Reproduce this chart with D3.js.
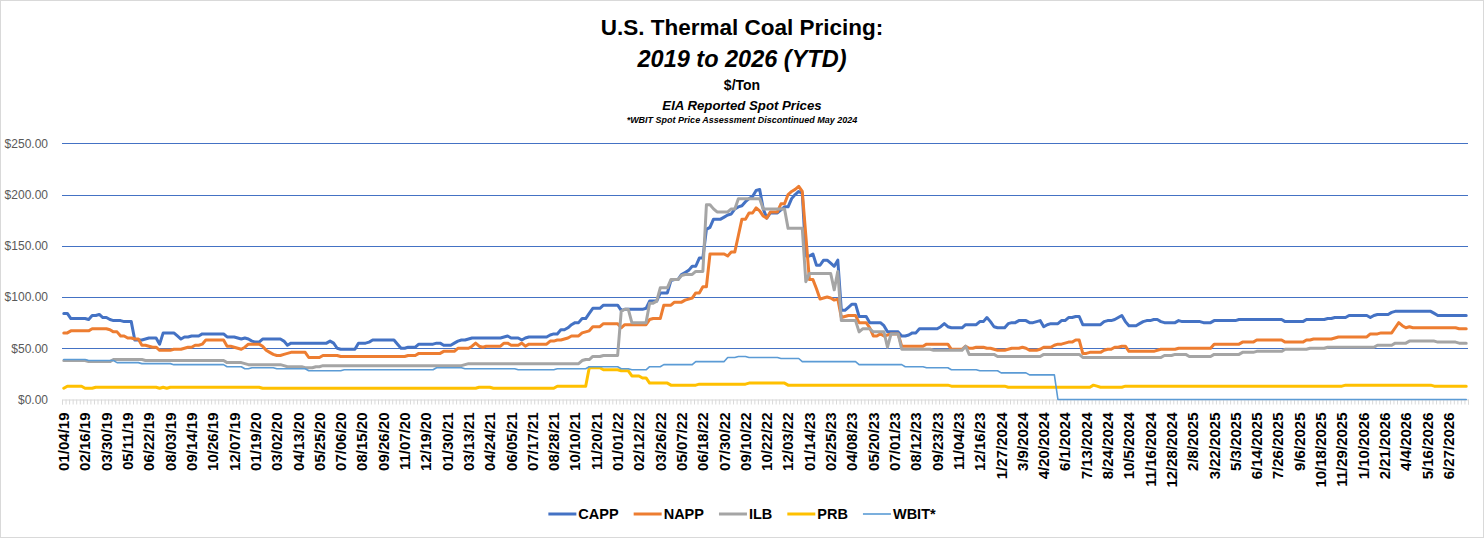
<!DOCTYPE html>
<html>
<head>
<meta charset="UTF-8">
<title>U.S. Thermal Coal Pricing</title>
<script src="https://cdn.jsdelivr.net/npm/d3@7"></script>
<style>
  body { margin: 0; background: #fff; }
  svg { display: block; font-family: "Liberation Sans", Arial, sans-serif; }
</style>
</head>
<body>
<svg id="chart" width="1484" height="538"></svg>
<script>
// weekly spot prices, $/ton
var capp = [
  84,84,79,79,79,79,79,78,82,82,83,80,
  80,78,77,77,77,76,76,76,58,58,58,59,
  60,60,60,54,65,65,65,65,62,59,61,61,
  62,62,62,64,64,64,64,64,64,64,61,61,
  61,60,59,60,59,57,56,56,59,59,59,59,
  59,59,57,53,55,55,55,55,55,55,55,55,
  55,55,55,57,55,50,49,49,49,49,49,55,
  55,55,56,58,58,58,58,58,58,58,54,50,
  50,51,51,51,54,54,54,54,54,55,55,53,
  53,53,55,57,58,58,59,60,60,60,60,60,
  60,60,60,60,61,62,60,60,60,58,60,61,
  61,61,61,61,61,63,64,64,68,68,70,73,
  75,75,79,79,84,89,89,89,92,92,92,92,
  92,87,88,88,88,88,88,88,89,96,96,96,
  104,104,104,116,117,117,122,124,126,130,130,138,
  138,166,168,176,176,176,178,180,181,186,188,189,
  193,196,198,204,205,186,177,182,182,182,185,188,
  188,196,200,203,201,140,140,142,131,131,136,136,
  133,130,136,87,87,90,93,93,81,81,81,75,
  75,75,75,72,66,66,66,66,62,62,63,65,
  65,69,69,69,69,69,69,71,74,71,70,70,
  70,70,73,73,73,73,76,76,80,76,71,70,
  70,70,74,75,75,77,77,77,75,75,76,77,
  71,73,74,74,74,77,77,80,80,81,81,73,
  73,73,73,73,73,76,77,77,78,80,82,76,
  72,72,72,74,76,77,77,78,78,76,75,75,
  75,75,77,76,76,76,76,76,76,75,75,75,
  77,77,77,77,77,77,77,78,78,78,78,78,
  78,78,78,78,78,78,78,78,76,76,76,76,
  76,76,78,78,78,78,78,78,79,79,80,80,
  80,80,82,82,82,82,82,82,80,82,83,83,
  83,83,85,86,86,86,86,86,86,86,86,86,
  86,86,84,82,82,82,82,82,82,82,82,82
];

var napp = [
  65,65,67,67,67,67,67,67,69,69,69,69,
  69,68,66,66,62,62,60,60,59,59,53,53,
  52,51,51,48,48,48,48,49,49,49,50,51,
  51,53,53,54,58,58,58,58,58,58,52,52,
  51,50,49,51,54,54,54,54,52,48,46,44,
  43,43,44,45,46,46,46,46,46,41,41,41,
  41,43,43,43,43,43,42,42,42,42,42,42,
  42,42,42,42,42,42,42,42,42,42,42,42,
  42,43,43,43,45,45,45,45,45,45,45,47,
  47,47,47,50,50,50,50,52,55,52,51,52,
  52,52,52,52,55,55,53,53,53,55,52,54,
  54,54,54,54,54,57,57,58,58,59,60,62,
  62,62,65,66,67,71,71,71,74,74,74,74,
  74,70,73,73,73,73,73,73,73,78,79,79,
  79,92,92,92,95,95,95,97,98,99,104,104,
  110,110,142,142,142,142,142,140,144,144,160,176,
  176,182,182,187,184,179,177,183,183,183,191,191,
  200,203,205,208,203,160,117,117,108,98,99,100,
  99,97,98,80,81,82,82,82,75,75,75,70,
  62,62,64,62,63,64,64,64,52,52,52,52,
  52,52,52,54,54,54,54,54,54,54,49,49,
  49,49,52,50,50,51,51,51,50,50,49,48,
  48,48,49,50,50,50,51,50,48,48,48,49,
  51,51,51,53,54,54,55,56,56,58,58,45,
  45,46,46,46,46,48,49,49,51,51,52,52,
  47,47,47,47,47,47,47,47,48,49,49,49,
  49,49,50,50,50,50,50,50,50,50,50,50,
  54,54,54,54,54,54,54,54,56,56,56,56,
  58,58,58,58,58,58,58,58,56,56,56,56,
  56,56,58,58,59,59,59,59,59,59,60,61,
  61,61,61,61,61,61,61,61,64,64,64,65,
  65,65,65,70,75,72,70,71,70,70,70,70,
  70,70,70,70,70,70,70,70,70,69,69,69
];

var ilb = [
  38,38,38,38,38,38,38,37,37,37,37,37,
  37,37,39,39,39,39,39,39,39,39,39,38,
  38,38,38,38,38,38,38,38,38,38,38,38,
  38,38,38,38,38,38,38,38,38,38,36,36,
  36,36,36,35,34,34,34,34,34,34,34,34,
  34,34,33,32,32,32,32,32,31,31,31,32,
  32,33,33,33,33,33,33,33,33,33,33,33,
  33,33,33,33,33,33,33,33,33,33,33,33,
  33,33,33,33,33,33,33,33,33,33,33,33,
  33,33,33,33,33,34,35,35,35,35,35,35,
  35,35,35,35,35,35,35,35,35,35,35,35,
  35,35,35,35,35,35,35,35,35,35,35,35,
  35,35,38,39,39,42,42,42,43,43,43,43,
  43,86,88,88,75,75,75,75,75,94,94,96,
  109,109,109,117,117,117,121,122,122,122,125,125,
  125,190,190,186,183,183,183,183,186,186,196,196,
  196,196,196,196,196,186,186,186,186,186,186,186,
  167,167,167,167,167,115,123,123,123,123,123,123,
  123,107,125,77,77,77,77,77,66,69,69,69,
  66,66,66,66,51,64,64,64,49,49,49,49,
  49,49,49,49,49,48,48,48,48,48,48,48,
  48,48,52,44,44,44,44,44,44,44,44,42,
  42,42,42,42,42,42,42,42,42,42,42,42,
  44,44,44,44,44,44,44,44,44,44,44,41,
  41,41,41,41,41,41,41,41,41,41,41,41,
  41,41,41,41,41,41,41,41,41,41,43,43,
  43,44,44,44,44,42,42,42,42,42,42,42,
  44,44,44,44,44,44,44,44,46,46,46,46,
  47,47,47,47,47,47,47,47,49,49,49,49,
  49,49,49,50,50,50,50,50,51,51,51,51,
  51,51,51,51,51,51,51,51,51,51,53,53,
  53,53,53,55,55,55,55,57,57,57,57,57,
  57,57,57,56,56,56,56,56,56,55,55,55
];

var prb = [
  11,13,13,13,13,13,11,11,11,12,12,12,
  12,12,12,12,12,12,12,12,12,12,12,12,
  12,12,12,11,12,11,12,12,12,12,12,12,
  12,12,12,12,12,12,12,12,12,12,12,12,
  12,12,12,12,12,12,12,12,11,11,11,11,
  11,11,11,11,11,11,11,11,11,11,11,11,
  11,11,11,11,11,11,11,11,11,11,11,11,
  11,11,11,11,11,11,11,11,11,11,11,11,
  11,11,11,11,11,11,11,11,11,11,11,11,
  11,11,11,11,11,11,11,11,11,12,12,12,
  12,11,11,11,11,11,11,11,11,11,11,11,
  11,11,11,11,11,11,11,13,13,13,13,13,
  13,13,13,13,31,31,31,31,29,29,29,29,
  29,28,28,28,23,23,23,21,21,16,16,16,
  16,16,16,14,14,14,14,14,14,14,14,15,
  15,15,15,15,15,15,15,15,15,15,15,15,
  15,16,16,16,16,16,16,16,16,16,16,16,
  14,14,14,14,14,14,14,14,14,14,14,14,
  14,14,14,14,14,14,14,14,14,14,14,14,
  14,14,14,14,14,14,14,14,14,14,14,14,
  14,14,14,14,14,14,14,14,14,14,13,13,
  13,13,13,13,13,13,13,13,13,13,13,13,
  13,13,12,12,12,12,12,12,12,12,12,12,
  12,12,12,12,12,12,12,12,12,12,12,12,
  12,12,14,13,12,12,12,12,12,12,12,13,
  13,13,13,13,13,13,13,13,13,13,13,13,
  13,13,13,13,13,13,13,13,13,13,13,13,
  13,13,13,13,13,13,13,13,13,13,13,13,
  13,13,13,13,13,13,13,13,13,13,13,13,
  13,13,13,13,13,13,13,13,13,13,13,13,
  13,14,14,14,14,14,14,14,14,14,14,14,
  14,14,14,14,14,14,14,14,14,14,14,14,
  14,14,13,13,13,13,13,13,13,13,13,13
];

// WBIT assessment discontinued May 2024, plotted at zero afterwards
var wbit = [
  39,39,39,39,39,39,39,38,38,38,38,38,
  38,38,38,36,36,36,36,36,36,36,35,35,
  35,35,35,35,35,35,35,34,34,34,34,34,
  34,34,34,34,34,34,34,34,34,34,32,32,
  32,32,32,30,30,31,31,31,31,31,31,31,
  30,30,30,30,30,30,30,30,30,28,28,28,
  28,28,28,28,28,28,28,29,29,29,29,29,
  29,29,29,29,29,29,29,29,29,29,29,29,
  29,29,29,29,29,29,29,29,29,31,31,31,
  31,31,31,31,31,30,30,30,30,30,30,30,
  30,30,30,30,30,30,30,30,29,29,29,29,
  29,29,29,29,29,29,29,30,30,30,30,30,
  30,30,30,30,32,32,32,32,32,32,32,32,
  32,30,30,30,29,29,29,29,29,32,32,32,
  32,34,34,34,34,34,34,34,34,34,37,37,
  37,37,37,37,37,37,37,41,41,41,42,42,
  42,41,41,41,41,41,41,41,41,41,40,40,
  40,40,40,40,37,37,37,37,37,37,37,37,
  37,37,37,37,37,37,37,37,34,34,34,34,
  34,34,34,34,34,34,34,34,34,32,32,32,
  32,32,32,31,31,31,31,31,31,31,29,29,
  29,29,29,29,29,29,28,28,28,28,28,28,
  26,26,26,26,26,26,26,26,24,24,24,24,
  24,24,24,24,0,0,0,0,0,0,0,0,
  0,0,0,0,0,0,0,0,0,0,0,0,
  0,0,0,0,0,0,0,0,0,0,0,0,
  0,0,0,0,0,0,0,0,0,0,0,0,
  0,0,0,0,0,0,0,0,0,0,0,0,
  0,0,0,0,0,0,0,0,0,0,0,0,
  0,0,0,0,0,0,0,0,0,0,0,0,
  0,0,0,0,0,0,0,0,0,0,0,0,
  0,0,0,0,0,0,0,0,0,0,0,0,
  0,0,0,0,0,0,0,0,0,0,0,0
];

// every 6th week is labelled on the axis
var tickLabels = ["01/04/19","02/16/19","03/30/19","05/11/19","06/22/19","08/03/19","09/14/19","10/26/19","12/07/19",
  "01/19/20","03/02/20","04/13/20","05/25/20","07/06/20","08/15/20","09/26/20","11/07/20","12/19/20",
  "01/30/21","03/13/21","04/24/21","06/05/21","07/17/21","08/28/21","10/10/21","11/20/21",
  "01/01/22","02/12/22","03/26/22","05/07/22","06/18/22","07/30/22","09/10/22","10/22/22","12/03/22",
  "01/14/23","02/25/23","04/08/23","05/20/23","07/01/23","08/12/23","09/23/23","11/04/23","12/16/23",
  "1/27/2024","3/9/2024","4/20/2024","6/1/2024","7/13/2024","8/24/2024","10/5/2024","11/16/2024","12/28/2024",
  "2/8/2025","3/22/2025","5/3/2025","6/14/2025","7/26/2025","9/6/2025","10/18/2025","11/29/2025",
  "1/10/2026","2/21/2026","4/4/2026","5/16/2026","6/27/2026"];

var yTicks = [0, 50, 100, 150, 200, 250];

var series = [
  {name: "CAPP",  values: capp, color: "#4472c4", width: 3},
  {name: "NAPP",  values: napp, color: "#ed7d31", width: 3},
  {name: "ILB",   values: ilb,  color: "#a5a5a5", width: 3},
  {name: "PRB",   values: prb,  color: "#ffc000", width: 3},
  {name: "WBIT*", values: wbit, color: "#5b9bd5", width: 1.6}
];

var W = 1484, H = 538;
var plotLeft = 62, plotRight = 1468, plotTop = 143.3, plotBottom = 399.5;
var n = capp.length;

var svg = d3.select("#chart");

svg.append("rect")
    .attr("x", 0.5).attr("y", 0.5)
    .attr("width", W - 1).attr("height", H - 1)
    .attr("fill", "#fff").attr("stroke", "#d9d9d9");

var x = d3.scaleBand().domain(d3.range(n)).range([plotLeft, plotRight]).padding(0);
var xEdge = d3.scaleLinear().domain([0, n]).range([plotLeft, plotRight]);
var y = d3.scaleLinear().domain([0, 250]).range([plotBottom, plotTop]);

// gridlines + $ labels
var yAxis = svg.append("g")
    .attr("transform", "translate(" + plotLeft + ",0)")
    .call(d3.axisLeft(y).tickValues(yTicks).tickSize(-(plotRight - plotLeft)).tickPadding(14)
      .tickFormat(d3.format("$.2f")));
yAxis.select(".domain").remove();
yAxis.selectAll(".tick line")
    .attr("stroke", "#4472c4")
    .attr("stroke-width", 1)
    .attr("shape-rendering", "crispEdges")
    .attr("display", function(d) { return d === 0 ? "none" : null; });
yAxis.selectAll(".tick text")
    .attr("fill", "#595959")
    .style("font-size", "12px");

// category axis with a tick between every week
var tickAxis = svg.append("g")
    .attr("transform", "translate(0," + plotBottom + ")")
    .call(d3.axisBottom(xEdge).tickValues(d3.range(n + 1)).tickSize(5).tickFormat(""));
tickAxis.selectAll("line, path").attr("stroke", "#d9d9d9");

var labelAxis = svg.append("g")
    .attr("transform", "translate(0," + plotBottom + ")")
    .call(d3.axisBottom(x)
      .tickValues(d3.range(0, n, 6))
      .tickSize(0)
      .tickFormat(function(i) { return tickLabels[i / 6]; }));
labelAxis.select(".domain").remove();
labelAxis.selectAll("text")
    .attr("transform", "rotate(-90)")
    .attr("x", -13)
    .attr("y", 0)
    .attr("dy", "0.36em")
    .style("text-anchor", "end")
    .style("font-size", "15px")
    .style("font-weight", "bold")
    .attr("fill", "#000");

// series
var line = d3.line()
    .x(function(d, i) { return x(i) + x.bandwidth() / 2; })
    .y(function(d) { return y(d); });

svg.append("g").selectAll("path")
  .data(series)
  .enter().append("path")
    .attr("d", function(s) { return line(s.values); })
    .attr("fill", "none")
    .attr("stroke", function(s) { return s.color; })
    .attr("stroke-width", function(s) { return s.width; })
    .attr("stroke-linejoin", "round")
    .attr("stroke-linecap", "round");

// titles
var titles = [
  {t: "U.S. Thermal Coal Pricing:", y: 35, size: 22.5, italic: false},
  {t: "2019 to 2026 (YTD)", y: 67, size: 23.5, italic: true},
  {t: "$/Ton", y: 89.5, size: 14, italic: false},
  {t: "EIA Reported Spot Prices", y: 110, size: 13.2, italic: true},
  {t: "*WBIT Spot Price Assessment Discontinued May 2024", y: 122.5, size: 9, italic: true}
];
svg.append("g").selectAll("text")
  .data(titles)
  .enter().append("text")
    .attr("x", 742)
    .attr("y", function(d) { return d.y; })
    .attr("text-anchor", "middle")
    .style("font-size", function(d) { return d.size + "px"; })
    .style("font-weight", "bold")
    .style("font-style", function(d) { return d.italic ? "italic" : "normal"; })
    .text(function(d) { return d.t; });

// legend
var legend = svg.append("g").attr("transform", "translate(0,514)");
var items = legend.selectAll("g")
  .data(series)
  .enter().append("g");
items.append("line")
    .attr("x1", 0).attr("x2", 28)
    .attr("stroke", function(s) { return s.color; })
    .attr("stroke-width", function(s) { return s.width; });
items.append("text")
    .attr("x", 30)
    .attr("dy", "0.36em")
    .style("font-size", "14.5px")
    .style("font-weight", "bold")
    .text(function(s) { return s.name; });

var widths = [];
items.each(function() { widths.push(30 + this.querySelector("text").getComputedTextLength()); });
var gap = 15;
var total = d3.sum(widths) + gap * (widths.length - 1);
var pos = 742 - total / 2;
items.attr("transform", function(d, i) {
  var p = pos;
  pos += widths[i] + gap;
  return "translate(" + p + ",0)";
});
</script>
</body>
</html>
